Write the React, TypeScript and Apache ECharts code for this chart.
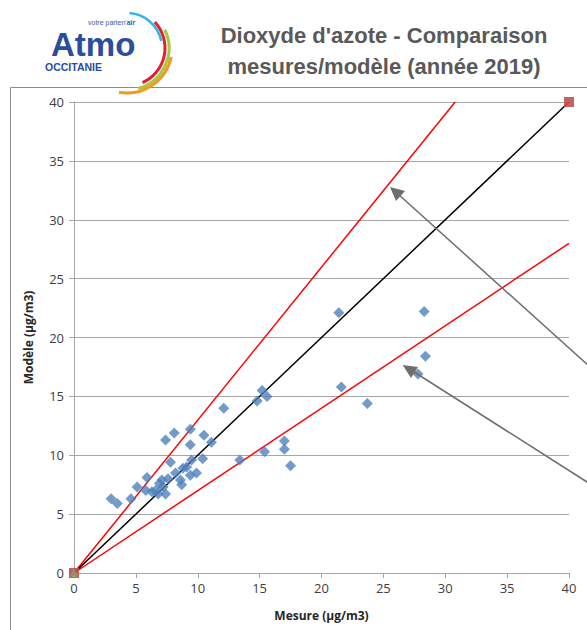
import React, { useEffect, useRef } from "react";
import * as echarts from "echarts";

// Measured (x) vs modelled (y) NO2, µg/m3
const stations: number[][] = [
  [3.0, 6.3], [3.5, 5.9], [4.6, 6.3], [5.1, 7.3], [5.9, 8.1], [5.8, 7.0], [6.3, 6.9],
  [6.6, 7.0], [6.8, 6.7], [6.9, 7.6], [7.1, 7.9], [7.2, 7.3], [7.4, 6.7], [7.6, 8.0],
  [7.4, 11.3], [8.1, 11.9], [7.8, 9.4], [8.2, 8.5], [8.6, 7.9], [8.7, 7.5], [8.8, 8.9],
  [9.1, 9.0], [9.4, 12.2], [9.4, 10.9], [9.5, 9.6], [9.4, 8.3], [9.9, 8.5], [10.4, 9.7],
  [10.5, 11.7], [11.1, 11.1], [12.1, 14.0], [13.4, 9.6], [14.8, 14.6], [15.2, 15.5],
  [15.6, 15.0], [15.4, 10.3], [17.0, 11.2], [17.0, 10.5], [17.5, 9.1], [21.4, 22.1],
  [21.6, 15.8], [23.7, 14.4], [27.8, 16.9], [28.4, 18.4], [28.3, 22.2],
];
const identityLine: number[][] = [[0, 0], [40, 40]];
const upperLine: number[][] = [[0, 0], [30.8, 40]];
const lowerLine: number[][] = [[0, 0], [40, 28]];
const squareMarks: number[][] = [[0, 0], [40, 40]];
const triangleMarks: number[][] = [[0, 0]];
const crossMarks: number[][] = [[0, 0]];
const axisMin = 0;
const axisMax = 40;
const axisStep = 5;

const titleLines = ["Dioxyde d'azote - Comparaison", "mesures/modèle (année 2019)"];

export default function App() {
  const ref = useRef<HTMLDivElement>(null);
  useEffect(() => {
    if (!ref.current) return;
    const chart = echarts.init(ref.current, null, { renderer: "svg" });
    const gridColor = "#a6a6a6";
    const arrowColor = "#6e6e6e";
    const font = "'Open Sans', 'Liberation Sans', sans-serif";
    const logoFont = "'Liberation Sans', Arial, sans-serif";
    chart.setOption({
      animation: false,
      backgroundColor: "#ffffff",
      grid: { left: 74, right: 18, top: 102, bottom: 57 },
      xAxis: {
        type: "value",
        min: axisMin,
        max: axisMax,
        interval: axisStep,
        name: "Mesure (µg/m3)",
        nameLocation: "middle",
        nameGap: 36,
        nameTextStyle: { fontFamily: font, fontWeight: "bold", fontSize: 12, color: "#262626" },
        axisLine: { show: true, lineStyle: { color: gridColor, width: 1 } },
        axisTick: { show: true, length: 5, lineStyle: { color: gridColor } },
        axisLabel: { fontFamily: font, fontSize: 13, color: "#404040", margin: 8 },
        splitLine: { show: false },
      },
      yAxis: {
        type: "value",
        min: axisMin,
        max: axisMax,
        interval: axisStep,
        name: "Modèle (µg/m3)",
        nameLocation: "middle",
        nameGap: 40,
        nameRotate: 90,
        nameTextStyle: { fontFamily: font, fontWeight: "bold", fontSize: 12, color: "#262626" },
        axisLine: { show: true, lineStyle: { color: gridColor, width: 1 } },
        axisTick: { show: true, length: 5, lineStyle: { color: gridColor } },
        axisLabel: { fontFamily: font, fontSize: 13, color: "#404040", margin: 10 },
        splitLine: { show: true, lineStyle: { color: gridColor, width: 1 } },
      },
      series: [
        {
          type: "line",
          data: upperLine,
          symbol: "none",
          lineStyle: { color: "#ff0000", width: 1.5 },
          z: 3,
        },
        {
          type: "line",
          data: lowerLine,
          symbol: "none",
          lineStyle: { color: "#ff0000", width: 1.5 },
          z: 3,
        },
        {
          type: "line",
          data: identityLine,
          symbol: "none",
          lineStyle: { color: "#000000", width: 1.5 },
          z: 3,
        },
        {
          type: "scatter",
          data: stations,
          symbol: "diamond",
          symbolSize: 11,
          itemStyle: { color: "#4f81bd" },
          z: 4,
        },
        {
          type: "scatter",
          data: squareMarks,
          symbol: "rect",
          symbolSize: 10,
          itemStyle: { color: "#c0504d", opacity: 0.9 },
          z: 5,
        },
        {
          type: "scatter",
          data: triangleMarks,
          symbol: "triangle",
          symbolSize: 8,
          itemStyle: { color: "#9bbb59", opacity: 0.85 },
          z: 6,
        },
        {
          type: "scatter",
          data: crossMarks,
          symbol: "path://M0,0L2,0L5,3L8,0L10,0L6,5L10,10L8,10L5,7L2,10L0,10L4,5Z",
          symbolSize: 8,
          itemStyle: { color: "#8064a2", opacity: 0.6 },
          z: 7,
        },
      ],
      graphic: [
        {
          type: "rect",
          shape: { x: 10.5, y: 87.5, width: 640, height: 600 },
          style: { fill: "none", stroke: "#8c8c8c", lineWidth: 1 },
          silent: true,
          z: 0,
        },
        {
          type: "text",
          x: 384,
          y: 35,
          style: {
            text: titleLines[0],
            fontFamily: logoFont,
            fontWeight: "bold",
            fontSize: 22,
            fill: "#595959",
            align: "center",
            verticalAlign: "middle",
          },
        },
        {
          type: "text",
          x: 384,
          y: 66,
          style: {
            text: titleLines[1],
            fontFamily: logoFont,
            fontWeight: "bold",
            fontSize: 22,
            fill: "#595959",
            align: "center",
            verticalAlign: "middle",
          },
        },
        // Logo
        {
          type: "text",
          x: 51,
          y: 44,
          style: {
            text: "Atmo",
            fontFamily: logoFont,
            fontWeight: "bold",
            fontSize: 33,
            fill: "#2a4d9c",
            align: "left",
            verticalAlign: "middle",
          },
        },
        {
          type: "text",
          x: 88,
          y: 22.5,
          style: {
            text: "{a|votre parten'}{b|air}",
            fontFamily: logoFont,
            fontSize: 7,
            fill: "#3b5ca8",
            align: "left",
            verticalAlign: "middle",
            rich: {
              a: { fontFamily: logoFont, fontSize: 7, fill: "#3b5ca8" },
              b: { fontFamily: logoFont, fontSize: 7, fontWeight: "bold", fill: "#3b5ca8" },
            },
          },
        },
        {
          type: "text",
          x: 45,
          y: 67,
          style: {
            text: "OCCITANIE",
            fontFamily: logoFont,
            fontWeight: "bold",
            fontSize: 10.5,
            fill: "#2a4d9c",
            align: "left",
            verticalAlign: "middle",
          },
        },
        {
          type: "arc",
          shape: { cx: 127, cy: 48, r: 35, startAngle: -1.5, endAngle: -0.2, clockwise: true },
          style: { stroke: "#2fb6e9", lineWidth: 2.5, fill: "none" },
        },
        {
          type: "arc",
          shape: { cx: 127, cy: 48, r: 38, startAngle: -0.75, endAngle: 1.15, clockwise: true },
          style: { stroke: "#e3202f", lineWidth: 3, fill: "none" },
        },
        {
          type: "arc",
          shape: { cx: 127, cy: 48, r: 42, startAngle: -0.45, endAngle: 1.3, clockwise: true },
          style: { stroke: "#a9c93b", lineWidth: 3, fill: "none" },
        },
        {
          type: "arc",
          shape: { cx: 127, cy: 48, r: 45, startAngle: 0.2, endAngle: 1.75, clockwise: true },
          style: { stroke: "#f39a1e", lineWidth: 3, fill: "none" },
        },
        // Arrows
        {
          type: "line",
          shape: { x1: 610, y1: 385, x2: 398, y2: 194 },
          style: { stroke: arrowColor, lineWidth: 1.5 },
          z: 10,
        },
        {
          type: "polygon",
          shape: { points: [[390, 187], [405, 191], [396, 201]] },
          style: { fill: arrowColor },
          z: 10,
        },
        {
          type: "line",
          shape: { x1: 620, y1: 503, x2: 411, y2: 370 },
          style: { stroke: arrowColor, lineWidth: 1.5 },
          z: 10,
        },
        {
          type: "polygon",
          shape: { points: [[402.7, 365], [418, 367], [411, 378]] },
          style: { fill: arrowColor },
          z: 10,
        },
      ],
    });
    return () => chart.dispose();
  }, []);
  return (
    <div
      ref={ref}
      style={{ position: "fixed", left: 0, top: 0, width: 587, height: 630, background: "#fff" }}
    />
  );
}
